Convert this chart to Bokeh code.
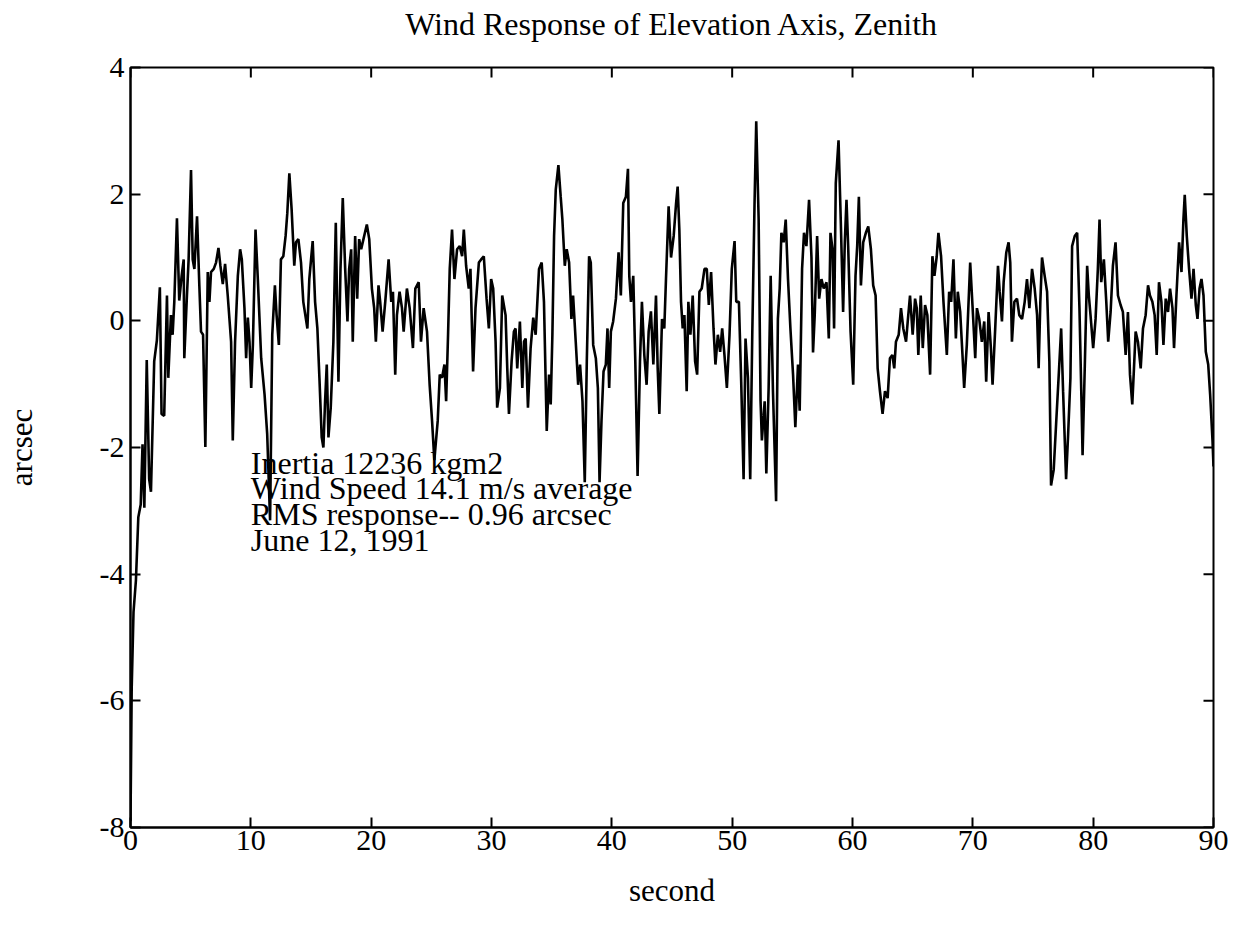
from bokeh.plotting import figure
from bokeh.models import Range1d, FixedTicker, Label, LinearAxis
from bokeh.embed import file_html
from bokeh.resources import INLINE

# ---------------- data ----------------
time_s = [
    0.0, 0.1, 0.25, 0.45, 0.65, 0.85, 1.0, 1.15, 1.35, 1.55, 1.7, 1.97, 2.19, 2.44, 2.58, 2.8,
    3.03, 3.14, 3.36, 3.5, 3.64, 3.86, 4.05, 4.25, 4.42, 4.47, 4.69, 4.83, 5.03, 5.17, 5.31, 5.53,
    5.72, 5.86, 6.03, 6.22, 6.42, 6.56, 6.69, 6.92, 7.11, 7.31, 7.47, 7.67, 7.86, 8.08, 8.36, 8.5,
    8.69, 8.92, 9.11, 9.25, 9.47, 9.61, 9.75, 9.89, 10.03, 10.17, 10.39, 10.58, 10.86, 11.14, 11.36, 11.6,
    11.78, 12.0, 12.14, 12.33, 12.5, 12.7, 12.89, 13.03, 13.2, 13.39, 13.61, 13.75, 13.95, 14.17, 14.36, 14.56,
    14.7, 14.86, 15.14, 15.34, 15.53, 15.7, 15.89, 16.03, 16.17, 16.31, 16.45, 16.64, 16.86, 17.06, 17.28, 17.45,
    17.64, 17.84, 18.03, 18.17, 18.34, 18.47, 18.67, 18.84, 19.0, 19.17, 19.36, 19.64, 19.84, 20.06, 20.25, 20.39,
    20.61, 20.75, 20.95, 21.17, 21.45, 21.67, 21.81, 22.0, 22.14, 22.36, 22.56, 22.7, 22.97, 23.2, 23.47, 23.67,
    23.95, 24.14, 24.36, 24.64, 24.86, 25.06, 25.25, 25.53, 25.7, 25.89, 26.09, 26.23, 26.39, 26.53, 26.72, 26.92,
    27.14, 27.36, 27.56, 27.7, 27.89, 28.11, 28.25, 28.47, 28.67, 28.95, 29.14, 29.36, 29.59, 29.78, 29.97, 30.14,
    30.34, 30.47, 30.7, 30.89, 31.17, 31.31, 31.45, 31.67, 31.86, 32.0, 32.14, 32.36, 32.56, 32.7, 32.84, 33.03,
    33.25, 33.47, 33.67, 33.95, 34.17, 34.36, 34.59, 34.78, 34.92, 35.06, 35.2, 35.34, 35.56, 35.75, 35.89, 36.09,
    36.25, 36.45, 36.64, 36.78, 37.0, 37.2, 37.36, 37.56, 37.75, 37.92, 38.11, 38.25, 38.45, 38.67, 38.84, 38.98,
    39.14, 39.31, 39.5, 39.64, 39.78, 39.92, 40.11, 40.34, 40.56, 40.75, 40.95, 41.17, 41.34, 41.45, 41.59, 41.78,
    41.95, 42.14, 42.34, 42.5, 42.7, 42.89, 43.06, 43.25, 43.45, 43.67, 43.81, 43.95, 44.17, 44.36, 44.5, 44.72,
    44.92, 45.14, 45.34, 45.47, 45.61, 45.75, 45.89, 46.03, 46.22, 46.36, 46.53, 46.72, 46.92, 47.09, 47.28, 47.47,
    47.7, 47.89, 48.06, 48.25, 48.45, 48.61, 48.81, 49.0, 49.17, 49.36, 49.56, 49.78, 49.97, 50.2, 50.34, 50.56,
    50.75, 50.95, 51.11, 51.31, 51.5, 51.67, 51.86, 52.0, 52.2, 52.36, 52.47, 52.7, 52.84, 53.03, 53.2, 53.39,
    53.65, 53.8, 53.95, 54.09, 54.28, 54.45, 54.64, 54.84, 55.06, 55.25, 55.47, 55.61, 55.81, 55.97, 56.17, 56.39,
    56.59, 56.72, 56.86, 57.06, 57.23, 57.42, 57.61, 57.84, 58.03, 58.17, 58.34, 58.47, 58.61, 58.84, 59.03, 59.22,
    59.36, 59.5, 59.64, 59.84, 60.06, 60.25, 60.39, 60.53, 60.7, 60.89, 61.11, 61.31, 61.53, 61.72, 61.92, 62.09,
    62.28, 62.5, 62.7, 62.92, 63.11, 63.31, 63.47, 63.61, 63.84, 64.03, 64.22, 64.45, 64.59, 64.78, 65.0, 65.2,
    65.34, 65.47, 65.67, 65.84, 66.03, 66.22, 66.45, 66.64, 66.81, 67.0, 67.14, 67.36, 67.56, 67.84, 68.03, 68.2,
    68.39, 68.59, 68.75, 68.95, 69.14, 69.28, 69.5, 69.78, 69.97, 70.2, 70.34, 70.53, 70.75, 70.95, 71.11, 71.31,
    71.5, 71.64, 71.86, 72.09, 72.23, 72.42, 72.56, 72.78, 72.97, 73.11, 73.25, 73.45, 73.67, 73.86, 74.09, 74.31,
    74.5, 74.7, 74.92, 75.14, 75.34, 75.47, 75.61, 75.75, 75.97, 76.17, 76.36, 76.5, 76.72, 76.92, 77.14, 77.34,
    77.5, 77.75, 77.92, 78.11, 78.25, 78.47, 78.67, 78.86, 79.03, 79.12, 79.3, 79.5, 79.64, 79.78, 80.0, 80.2,
    80.39, 80.53, 80.67, 80.89, 81.09, 81.25, 81.45, 81.64, 81.86, 82.06, 82.28, 82.47, 82.7, 82.89, 83.06, 83.25,
    83.39, 83.53, 83.72, 83.95, 84.14, 84.36, 84.56, 84.72, 84.92, 85.11, 85.28, 85.47, 85.67, 85.84, 86.03, 86.22,
    86.39, 86.59, 86.72, 86.92, 87.14, 87.34, 87.5, 87.61, 87.78, 87.97, 88.17, 88.34, 88.53, 88.67, 88.84, 89.0,
    89.17, 89.36, 89.56, 89.72, 89.92, 90.0,
]

arcsec = [
    -7.9, -5.8, -4.6, -4.1, -3.1, -2.9, -1.95, -2.95, -0.62, -2.5, -2.7, -0.64, -0.31, 0.53, -1.47, -1.5,
    0.40, -0.90, 0.09, -0.22, 0.30, 1.62, 0.32, 0.71, 0.97, -0.59, 0.40, 0.97, 2.38, 0.97, 0.82, 1.65,
    0.56, -0.17, -0.22, -1.99, 0.77, 0.30, 0.77, 0.82, 0.92, 1.15, 0.87, 0.58, 0.90, 0.40, -0.33, -1.89,
    -0.33, 0.71, 1.13, 0.97, 0.20, -0.59, 0.05, -0.33, -1.06, -0.38, 1.44, 0.66, -0.59, -1.16, -1.79, -3.15,
    -0.22, 0.56, 0.09, -0.38, 0.97, 1.02, 1.34, 1.70, 2.33, 1.76, 0.87, 1.24, 1.29, 0.92, 0.30, 0.05,
    -0.12, 0.66, 1.26, 0.30, -0.12, -0.90, -1.84, -2.0, -1.27, -0.69, -1.84, -1.37, -0.33, 1.55, -0.96, 0.82,
    1.94, 0.82, -0.01, 0.82, 1.13, -0.33, 1.34, 0.35, 1.29, 1.13, 1.29, 1.52, 1.29, 0.51, 0.20, -0.33,
    0.56, 0.30, -0.17, 0.30, 0.97, 0.30, 0.46, -0.85, 0.09, 0.46, 0.20, -0.17, 0.51, 0.20, -0.43, 0.51,
    0.61, -0.33, 0.20, -0.17, -1.01, -1.58, -2.2, -1.58, -0.85, -0.90, -0.69, -1.27, -0.22, 0.82, 1.44, 0.66,
    1.13, 1.18, 1.02, 1.44, 0.87, 0.51, 0.82, -0.80, 0.20, 0.92, 0.97, 1.02, 0.35, -0.12, 0.66, 0.51,
    -0.33, -1.37, -1.06, 0.40, 0.09, -0.75, -1.47, -0.64, -0.17, -0.12, -0.75, -0.01, -1.06, -0.33, -0.28, -1.37,
    -0.43, 0.05, -0.22, 0.82, 0.92, 0.30, -1.74, -0.85, -1.32, -0.22, 1.34, 2.07, 2.46, 1.96, 1.60, 0.87,
    1.13, 0.92, 0.03, 0.40, -0.33, -1.01, -0.69, -1.27, -2.55, -0.64, 1.02, 0.92, -0.38, -0.59, -1.06, -2.55,
    -1.58, -0.80, -0.69, -0.12, -1.06, -0.17, -0.01, 0.35, 1.08, 0.40, 1.86, 1.96, 2.40, 0.71, 0.30, 0.71,
    -0.64, -2.45, -0.64, 0.30, -0.54, -1.01, -0.17, 0.15, -0.69, 0.40, -0.75, -1.47, 0.03, -0.12, 0.66, 1.81,
    1.0, 1.34, 1.86, 2.12, 1.44, 0.30, -0.12, 0.09, -1.11, 0.30, -0.22, 0.40, -0.64, -0.85, 0.46, 0.51,
    0.82, 0.82, 0.25, 0.77, -0.12, -0.69, -0.22, -0.49, -0.12, -0.54, -1.06, -0.22, 0.82, 1.26, 0.30, 0.30,
    -0.96, -2.5, -0.28, -0.90, -2.5, -0.22, 1.86, 3.15, 1.60, -1.27, -1.89, -1.27, -2.41, -1.06, 0.71, -1.11,
    -2.85, 0.03, 0.51, 1.39, 1.24, 1.60, 0.66, -0.12, -0.85, -1.68, -0.69, -1.42, 0.82, 1.39, 1.18, 1.91,
    1.0, -0.5, 0.09, 1.34, 0.35, 0.66, 0.51, 0.61, -0.28, 1.39, 1.13, -0.12, 2.17, 2.85, 1.55, 0.14,
    1.24, 1.91, 1.18, -0.17, -1.01, 0.71, 1.18, 1.96, 0.56, 1.24, 1.39, 1.49, 1.13, 0.56, 0.40, -0.75,
    -1.11, -1.47, -1.11, -1.22, -0.59, -0.54, -0.75, -0.33, -0.22, 0.20, -0.12, -0.33, -0.01, 0.40, -0.22, 0.35,
    0.20, -0.54, 0.40, -0.43, 0.25, 0.09, -0.85, 1.02, 0.71, 1.02, 1.39, 1.02, 0.30, -0.54, 0.46, 0.30,
    0.97, -0.28, 0.46, 0.14, -0.54, -1.06, -0.38, 0.92, 0.25, -0.59, 0.20, 0.03, -0.33, -0.01, -0.96, 0.14,
    -0.43, -1.01, -0.12, 0.87, 0.46, -0.01, 0.61, 1.08, 1.24, 0.92, -0.33, 0.30, 0.35, 0.09, 0.03, 0.30,
    0.66, 0.20, 0.82, 0.51, 0.09, -0.75, 0.30, 1.00, 0.71, 0.46, -0.64, -2.6, -2.35, -1.63, -0.85, -0.12,
    -1.11, -2.5, -1.79, -0.90, 1.18, 1.34, 1.39, 0.20, -1.27, -2.12, -0.75, 0.87, 0.40, 0.09, -0.43, 0.03,
    0.82, 1.60, 0.61, 0.97, 0.30, -0.33, 0.14, 0.87, 1.24, 0.40, 0.25, 0.14, -0.54, 0.14, -0.85, -1.32,
    -0.75, -0.17, -0.33, -0.75, -0.12, 0.09, 0.56, 0.40, 0.30, 0.09, -0.54, 0.61, 0.30, -0.38, 0.35, 0.14,
    0.51, 0.20, -0.43, 0.40, 1.24, 0.77, 1.60, 1.99, 1.34, 0.82, 0.35, 0.82, 0.25, 0.03, 0.51, 0.66,
    0.40, -0.49, -0.69, -1.16, -1.9, -2.3,
]

x_ticks = [0, 10, 20, 30, 40, 50, 60, 70, 80, 90]
x_tick_labels = ["0", "10", "20", "30", "40", "50", "60", "70", "80", "90"]
y_ticks = [-8, -6, -4, -2, 0, 2, 4]
y_tick_labels = ["-8", "-6", "-4", "-2", "0", "2", "4"]

title_text = "Wind Response of Elevation Axis, Zenith"
x_label = "second"
y_label = "arcsec"
note_lines = [
    "Inertia 12236 kgm2",
    "Wind Speed 14.1 m/s average",
    "RMS response-- 0.96 arcsec",
    "June 12, 1991",
]
note_x = 10.0
note_y_first = -2.24
note_y_step = 0.405

# ---------------- figure ----------------
FONT = "Liberation Serif"
X0, X1, Y0, Y1 = 0, 90, -8, 4

p = figure(
    width=1249, height=943,
    x_range=Range1d(X0, X1), y_range=Range1d(Y0, Y1),
    output_backend="svg", toolbar_location=None,
    min_border_left=130, min_border_right=36,
    min_border_top=67, min_border_bottom=116,
    background_fill_color="white", border_fill_color="white",
)
p.grid.visible = False
p.outline_line_color = "black"
p.outline_line_width = 2

p.line(time_s, arcsec, line_color="black", line_width=2.6)

def style_axis(ax, ticks, labels):
    ax.ticker = FixedTicker(ticks=ticks)
    ax.major_label_overrides = {float(t): l for t, l in zip(ticks, labels)}
    ax.major_tick_in = 10
    ax.major_tick_out = 0
    ax.minor_tick_in = 0
    ax.minor_tick_out = 0
    ax.major_tick_line_color = "black"
    ax.major_tick_line_width = 2
    ax.axis_line_color = "black"
    ax.axis_line_width = 2
    ax.major_label_text_font = FONT
    ax.major_label_text_color = "black"
    ax.major_label_text_font_size = "30px"
    ax.axis_label_text_font = FONT
    ax.axis_label_text_font_size = "31px"
    ax.axis_label_text_font_style = "normal"
    ax.axis_label_text_color = "black"

xa = p.xaxis[0]
ya = p.yaxis[0]
style_axis(xa, x_ticks, x_tick_labels)
style_axis(ya, y_ticks, y_tick_labels)
xa.major_label_standoff = 3
ya.major_label_standoff = 6
xa.axis_label = x_label
xa.axis_label_standoff = 20
ya.axis_label = y_label
ya.axis_label_standoff = 58

# title: carried as the label of a tick-less axis above the frame
top_ax = LinearAxis(ticker=FixedTicker(ticks=[]))
top_ax.axis_line_color = None
top_ax.major_tick_line_color = None
top_ax.minor_tick_line_color = None
top_ax.axis_label = title_text
top_ax.axis_label_text_font = FONT
top_ax.axis_label_text_font_size = "32px"
top_ax.axis_label_text_font_style = "normal"
top_ax.axis_label_text_color = "black"
top_ax.axis_label_standoff = 26
p.add_layout(top_ax, "above")

# inward ticks on the top and right edges of the frame
p.ray(x=x_ticks, y=[Y1] * len(x_ticks), length=10, length_units="screen",
      angle=-90, angle_units="deg", line_color="black", line_width=2)
p.ray(x=[X1] * len(y_ticks), y=y_ticks, length=10, length_units="screen",
      angle=180, angle_units="deg", line_color="black", line_width=2)

for i, line in enumerate(note_lines):
    p.add_layout(Label(
        x=note_x, y=note_y_first - i * note_y_step, text=line,
        text_font=FONT, text_font_size="32px", text_color="black",
        text_baseline="alphabetic", text_align="left",
    ))

open("out.html", "w").write(file_html(p, INLINE))
